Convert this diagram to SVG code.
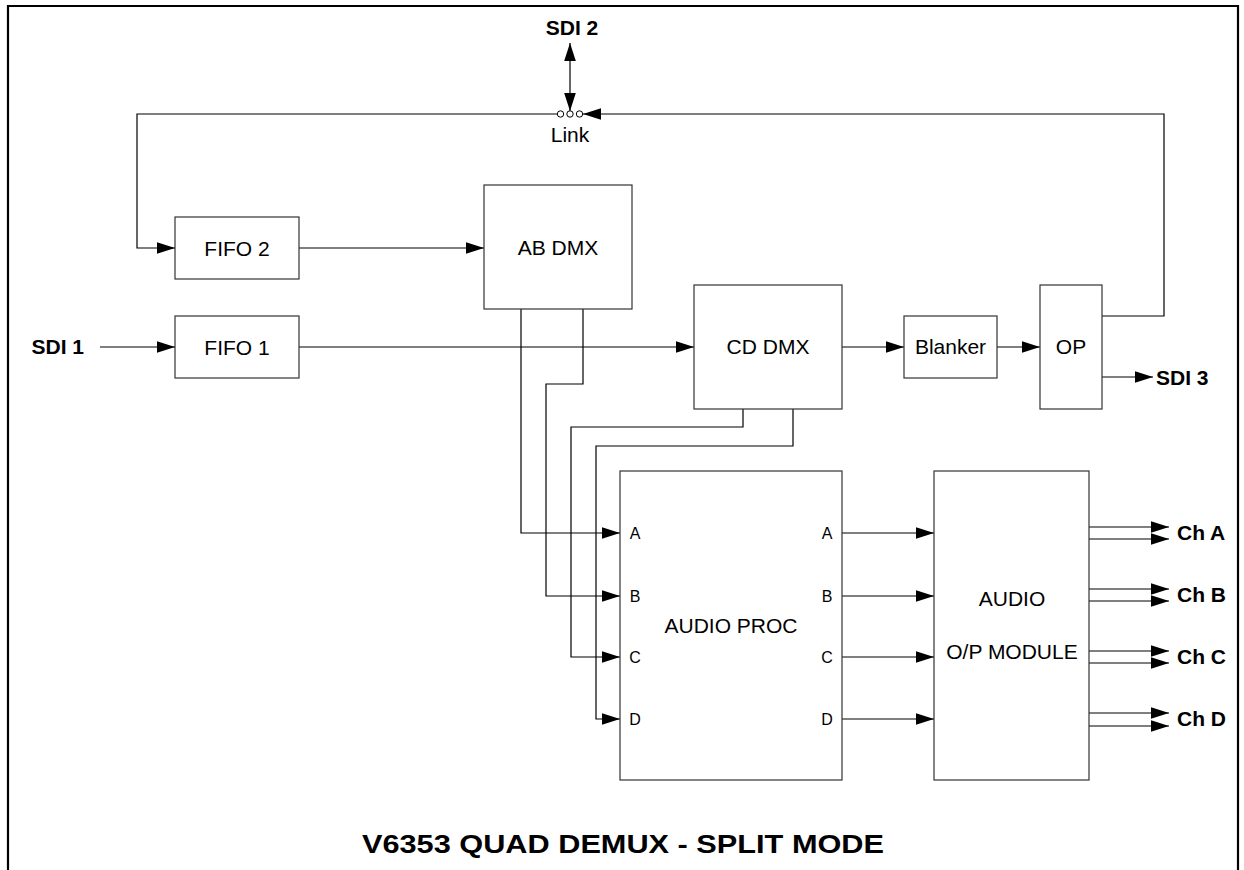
<svg xmlns="http://www.w3.org/2000/svg" width="1244" height="870" viewBox="0 0 1244 870">
<style>
.box{fill:#fff;stroke:#333;stroke-width:1.2}
.c{fill:none;stroke:#000;stroke-width:1.2}
.a{marker-end:url(#ah)}
.t{font-family:"Liberation Sans",Arial,sans-serif;font-size:21px;fill:#000;text-anchor:middle}
.s{font-family:"Liberation Sans",Arial,sans-serif;font-size:16px;fill:#000;text-anchor:middle}
.b{font-family:"Liberation Sans",Arial,sans-serif;font-size:21px;font-weight:bold;fill:#000}
</style>
<defs>
<marker id="ah" markerUnits="userSpaceOnUse" markerWidth="18" markerHeight="12" viewBox="0 0 17 11" refX="17" refY="5.5" orient="auto-start-reverse">
<path d="M0,0 L17,5.5 L0,11 z" fill="#000"/>
</marker>
</defs>
<rect width="1244" height="870" fill="#fff"/>
<path d="M8,870 V6 H1238 V870" fill="none" stroke="#000" stroke-width="2.2"/>

<g id="connectors">
<path class="c a" d="M557,114 H137 V248 H175"/>
<path class="c a" d="M1102,316 H1164 V114 H583"/>
<path class="c a" d="M570,111 V43" style="marker-start:url(#ah)"/>
<path class="c a" d="M100,347 H175"/>
<path class="c a" d="M299,248 H484"/>
<path class="c a" d="M299,347 H694"/>
<path class="c a" d="M842,347 H904"/>
<path class="c a" d="M997,347 H1040"/>
<path class="c a" d="M1102,377 H1153"/>
<path class="c a" d="M521,309 V533 H620"/>
<path class="c a" d="M583,309 V384 H546 V596 H620"/>
<path class="c a" d="M743,409 V427 H571 V657 H620"/>
<path class="c a" d="M793,409 V446 H596 V719 H620"/>
<path class="c a" d="M842,533 H934"/>
<path class="c a" d="M842,596 H934"/>
<path class="c a" d="M842,657 H934"/>
<path class="c a" d="M842,719 H934"/>
<path class="c a" d="M1089,527 H1169"/>
<path class="c a" d="M1089,539 H1169"/>
<path class="c a" d="M1089,589 H1169"/>
<path class="c a" d="M1089,601 H1169"/>
<path class="c a" d="M1089,651 H1169"/>
<path class="c a" d="M1089,663 H1169"/>
<path class="c a" d="M1089,713 H1169"/>
<path class="c a" d="M1089,726 H1169"/>
</g>

<g id="link">
<circle cx="560.5" cy="114" r="3.2" fill="#fff" stroke="#000" stroke-width="1"/>
<circle cx="570" cy="114" r="3.2" fill="#fff" stroke="#000" stroke-width="1"/>
<circle cx="579.5" cy="114" r="3.2" fill="#fff" stroke="#000" stroke-width="1"/>
<text class="t" x="570" y="142">Link</text>
</g>

<g id="sdi2"><text class="b" x="572" y="35" text-anchor="middle">SDI 2</text></g>
<g id="sdi1"><text class="b" x="84" y="354" text-anchor="end">SDI 1</text></g>
<g id="sdi3"><text class="b" x="1156" y="385">SDI 3</text></g>

<g id="fifo2"><rect class="box" x="175" y="217" width="124" height="62"/><text class="t" x="237" y="255.5">FIFO 2</text></g>
<g id="fifo1"><rect class="box" x="175" y="316" width="124" height="62"/><text class="t" x="237" y="354.5">FIFO 1</text></g>
<g id="abdmx"><rect class="box" x="484" y="185" width="148" height="124"/><text class="t" x="558" y="255">AB DMX</text></g>
<g id="cddmx"><rect class="box" x="694" y="285" width="148" height="124"/><text class="t" x="768" y="354">CD DMX</text></g>
<g id="blanker"><rect class="box" x="904" y="316" width="93" height="62"/><text class="t" x="950.5" y="354">Blanker</text></g>
<g id="op"><rect class="box" x="1040" y="285" width="62" height="124"/><text class="t" x="1071" y="354">OP</text></g>

<g id="audioproc">
<rect class="box" x="620" y="471" width="222" height="309"/>
<text class="t" x="731" y="633">AUDIO PROC</text>
<text class="s" x="635" y="539">A</text>
<text class="s" x="635" y="602">B</text>
<text class="s" x="635" y="663">C</text>
<text class="s" x="635" y="725">D</text>
<text class="s" x="827" y="539">A</text>
<text class="s" x="827" y="602">B</text>
<text class="s" x="827" y="663">C</text>
<text class="s" x="827" y="725">D</text>
</g>

<g id="audioop">
<rect class="box" x="934" y="471" width="155" height="309"/>
<text class="t" x="1012" y="606">AUDIO</text>
<text class="t" x="1012" y="659">O/P MODULE</text>
</g>

<g id="cha"><text class="b" x="1177" y="540">Ch A</text></g>
<g id="chb"><text class="b" x="1177" y="602">Ch B</text></g>
<g id="chc"><text class="b" x="1177" y="664">Ch C</text></g>
<g id="chd"><text class="b" x="1177" y="726">Ch D</text></g>

<g id="title"><text class="b" x="623" y="853" text-anchor="middle" style="font-size:25px" textLength="522" lengthAdjust="spacingAndGlyphs">V6353 QUAD DEMUX - SPLIT MODE</text></g>
</svg>
